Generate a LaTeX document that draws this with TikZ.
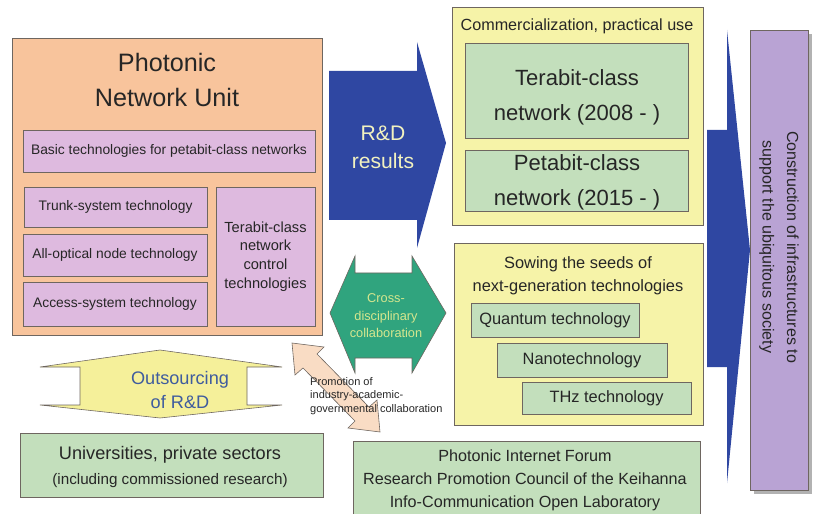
\documentclass[tikz,border=0pt]{standalone}
\usepackage{fontspec}
\setmainfont{Liberation Sans}
\usetikzlibrary{fit}

\definecolor{laranja}{HTML}{F8C49C}
\definecolor{lilas}{HTML}{DEBADF}
\definecolor{amarelo}{HTML}{F6F3A8}
\definecolor{verde}{HTML}{C3DFBC}
\definecolor{azul}{HTML}{2F47A2}
\definecolor{turquesa}{HTML}{30A47E}
\definecolor{roxo}{HTML}{B9A3D4}
\definecolor{pessego}{HTML}{F9DCC4}
\definecolor{amarelosetas}{HTML}{F5F09A}
\definecolor{textoclaro}{HTML}{F2F2C0}
\definecolor{textoverde}{HTML}{D5E68E}
\definecolor{textoazul}{HTML}{3F5C9E}
\definecolor{borda}{HTML}{6E6660}

\tikzset{
  caixa/.style={draw=borda, line width=0.6pt, inner sep=0pt},
  seta/.style={draw=borda, line width=0.5pt},
  texto/.style={align=center, inner sep=0pt, text=black!85},
}

\begin{document}
\begin{tikzpicture}[x=0.03cm,y=-0.03cm] %1 unidade = 1 pixel da figura original
\useasboundingbox (0,0) rectangle (813,514);

%----------------------------------------------------
%Setas azuis (resultados e infraestrutura)
%----------------------------------------------------
\fill[azul] (329,71)--(417,71)--(417,42)--(446,143)--(417,248)--(417,220)--(329,220)--cycle; %seta R&D results
\node[texto, font=\fontsize{18}{24}\selectfont, text=textoclaro] (resultados) at (383,147) {R\&D\\results};

\fill[azul] (707,130)--(727,130)--(727,30)--(750,250)--(727,483)--(727,367)--(707,367)--cycle; %seta grande da direita

%----------------------------------------------------
%Unidade de redes fotonicas (bloco laranja)
%----------------------------------------------------
\node[caixa, fill=laranja, fit={(12,38) (322,335)}] (unidade) {};
\node[texto, font=\fontsize{21.5}{30}\selectfont] (titulo) at (167,80) {Photonic\\Network Unit};

\node[caixa, fill=lilas, fit={(23,130) (315,172)}] (basica) {};
\node[caixa, fill=lilas, fit={(24,187) (207,227)}] (tronco) {};
\node[caixa, fill=lilas, fit={(23,234) (207,276)}] (optico) {};
\node[caixa, fill=lilas, fit={(23,282) (207,326)}] (acesso) {};
\node[caixa, fill=lilas, fit={(216,187) (315,326)}] (controle) {};

\node[texto, font=\fontsize{11.8}{14}\selectfont] (tbasica) at (basica) {Basic technologies for petabit-class networks};
\node[texto, font=\fontsize{11.8}{14}\selectfont] (ttronco) at (tronco) {Trunk-system technology};
\node[texto, font=\fontsize{11.8}{14}\selectfont] (toptico) at (optico) {All-optical node technology};
\node[texto, font=\fontsize{11.8}{14}\selectfont] (tacesso) at (acesso) {Access-system technology};
\node[texto, font=\fontsize{12.5}{16}\selectfont] (tcontrole) at (controle) {Terabit-class\\network\\control\\technologies};

%----------------------------------------------------
%Comercializacao (bloco amarelo de cima)
%----------------------------------------------------
\node[caixa, fill=amarelo, fit={(452,7) (703,225)}] (comercial) {};
\node[texto, font=\fontsize{13.8}{16}\selectfont] (tcomercial) at (577,26) {Commercialization, practical use};
\node[caixa, fill=verde, fit={(465,43) (688,138)}] (terabit) {};
\node[caixa, fill=verde, fit={(465,150) (688,211)}] (petabit) {};
\node[texto, font=\fontsize{18.8}{30}\selectfont] (tterabit) at (577,97) {Terabit-class\\network (2008 - )};
\node[texto, font=\fontsize{18.8}{30}\selectfont] (tpetabit) at (577,182) {Petabit-class\\network (2015 - )};

%----------------------------------------------------
%Sementes das proximas tecnologias (bloco amarelo de baixo)
%----------------------------------------------------
\node[caixa, fill=amarelo, fit={(454,243) (703,425)}] (sementes) {};
\node[texto, font=\fontsize{14}{20}\selectfont] (tsementes) at (578,276) {Sowing the seeds of\\next-generation technologies};
\node[caixa, fill=verde, fit={(471,303) (639,337)}] (quantica) {};
\node[caixa, fill=verde, fit={(497,343) (667,377)}] (nano) {};
\node[caixa, fill=verde, fit={(522,382) (691,414)}] (thz) {};
\node[texto, font=\fontsize{14}{16}\selectfont] (tquantica) at (quantica) {Quantum technology};
\node[texto, font=\fontsize{14}{16}\selectfont] (tnano) at (nano) {Nanotechnology};
\node[texto, font=\fontsize{14}{16}\selectfont] (tthz) at (thz) {THz technology};

%----------------------------------------------------
%Construcao de infraestruturas (bloco roxo)
%----------------------------------------------------
\fill[gray!60] (754,34) rectangle (812,494); %sombra
\node[caixa, fill=roxo, fit={(750,30) (808,490)}] (infra) {};
\node[texto, rotate=-90, font=\fontsize{13.7}{21}\selectfont] (tinfra) at (779,247) {Construction of infrastructures to\\support the ubiquitous society};

%----------------------------------------------------
%Setas duplas de colaboracao
%----------------------------------------------------
\filldraw[seta, fill=turquesa] (330,313)--(355,256)--(355,273)--(412,273)--(412,256)--(446,313)--(412,373)--(412,358)--(355,358)--(355,373)--cycle;
\node[texto, font=\fontsize{10.9}{15}\selectfont, text=textoverde] (cruzada) at (386,316) {Cross-\\disciplinary\\collaboration};

\filldraw[seta, fill=amarelosetas] (160,350)--(282,367)--(247,367)--(247,405)--(282,405)--(160,418)--(40,405)--(80,405)--(80,367)--(40,367)--cycle;
\node[texto, font=\fontsize{15.5}{21}\selectfont, text=textoazul] (terceiro) at (180,390) {Outsourcing\\of R\&D};

\filldraw[seta, fill=pessego] (292,343)--(324,347)--(317,354)--(369,407)--(377,400)--(380,432)--(348,428)--(355,421)--(303,368)--(295,375)--cycle; %seta diagonal
\node[texto, align=left, anchor=west, font=\fontsize{9.4}{11.5}\selectfont] (promocao) at (310,396) {Promotion of\\industry-academic-\\governmental collaboration};

%----------------------------------------------------
%Parceiros externos (blocos verdes de baixo)
%----------------------------------------------------
\node[caixa, fill=verde, fit={(20,433) (323,497)}] (universidades) {};
\node[texto, font=\fontsize{15.5}{22}\selectfont] (tuniversidades) at (170,467) {Universities, private sectors\\{\fontsize{13}{14}\selectfont (including commissioned research)}};

\node[caixa, fill=verde, fit={(353,441) (700,520)}] (forum) {};
\node[texto, font=\fontsize{13.8}{19.5}\selectfont] (tforum) at (525,480) {Photonic Internet Forum\\Research Promotion Council of the Keihanna\\Info-Communication Open Laboratory};

\end{tikzpicture}
\end{document}
